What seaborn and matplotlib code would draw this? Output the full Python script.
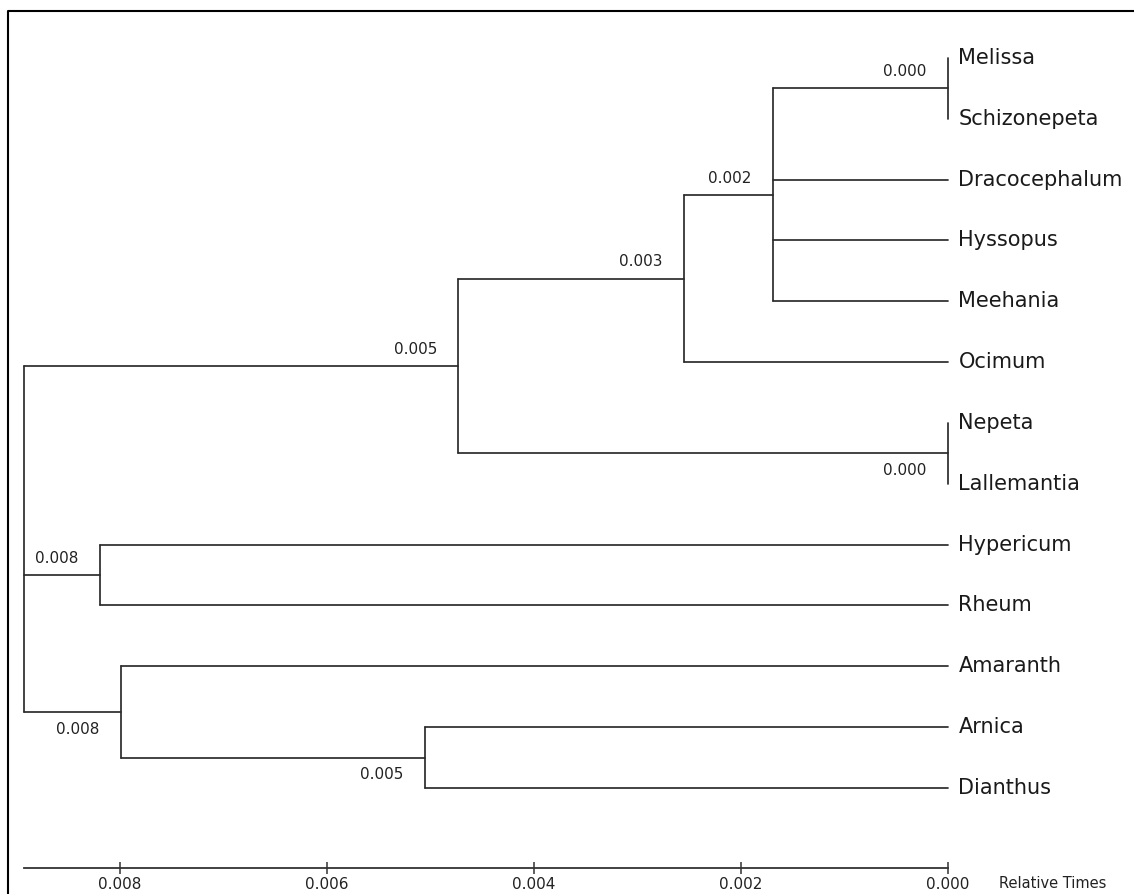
import pandas as pd
import matplotlib.pyplot as plt
import seaborn as sns
from matplotlib.lines import Line2D

# Tree data
leaves = ["Melissa", "Schizonepeta", "Dracocephalum", "Hyssopus", "Meehania",
          "Ocimum", "Nepeta", "Lallemantia", "Hypericum", "Rheum",
          "Amaranth", "Arnica", "Dianthus"]

node_names = ["n1", "n2", "n3", "n4", "n5", "n6", "n7", "n8", "root"]
node_children = [
    ["Melissa", "Schizonepeta"],
    ["n1", "Dracocephalum", "Hyssopus", "Meehania"],
    ["n2", "Ocimum"],
    ["Nepeta", "Lallemantia"],
    ["n3", "n4"],
    ["Hypericum", "Rheum"],
    ["Arnica", "Dianthus"],
    ["Amaranth", "n7"],
    ["n5", "n6", "n8"],
]
node_heights = [0.0, 0.00169, 0.00255, 0.0, 0.00473, 0.00819, 0.00505, 0.00799, 0.00893]
node_labels = ["0.000", "0.002", "0.003", "0.000", "0.005", "0.008", "0.005", "0.008", ""]

tick_values = [0.008, 0.006, 0.004, 0.002, 0.000]
axis_title = "Relative Times"

# which node labels sit under their branch
below = {"n4", "n8", "n7"}

# layout from the tree
height = {name: 0.0 for name in leaves}
ypos = {name: i for i, name in enumerate(leaves)}
for name, kids, h in zip(node_names, node_children, node_heights):
    height[name] = h
    ypos[name] = (ypos[kids[0]] + ypos[kids[-1]]) / 2

rows = []
seg = 0
for name, kids in zip(node_names, node_children):
    h = height[name]
    rows += [(seg, h, ypos[kids[0]]), (seg, h, ypos[kids[-1]])]
    seg += 1
    for k in kids:
        rows += [(seg, h, ypos[k]), (seg, height[k], ypos[k])]
        seg += 1
segs = pd.DataFrame(rows, columns=["seg", "x", "y"])

sns.set_theme(style="white")
plt.rcParams["font.family"] = ["DejaVu Sans"]

fig = plt.figure(figsize=(11.34, 8.94), dpi=100)
ax = fig.add_axes([0, 0, 1, 1])
sns.lineplot(data=segs, x="x", y="y", units="seg", estimator=None, sort=False,
             color="#2b2b2b", linewidth=1.25, legend=False, ax=ax)

root_h = node_heights[node_names.index("root")]
ax.set_xlim(0.009159, -0.001797)
ax.set_ylim(13.743, -0.9535)

for name in leaves:
    ax.annotate(name, xy=(0, ypos[name]), xytext=(7.5, 0), textcoords="offset points",
                ha="left", va="center", fontsize=15, color="#1a1a1a")

for name, lab in zip(node_names, node_labels):
    if not lab:
        continue
    dy = -12.5 if name in below else 12
    ax.annotate(lab, xy=(height[name], ypos[name]), xytext=(-15.5, dy),
                textcoords="offset points", ha="right", va="center",
                fontsize=11, color="#222222")

# time axis
axis_y = 13.316
for s in ["top", "left", "right"]:
    ax.spines[s].set_visible(False)
ax.spines["bottom"].set_position(("data", axis_y))
ax.spines["bottom"].set_bounds(0, root_h)
ax.spines["bottom"].set_color("#333333")
ax.spines["bottom"].set_linewidth(1.3)
ax.set_xticks(tick_values)
ax.set_xticklabels([f"{v:.3f}" for v in tick_values])
ax.tick_params(axis="x", direction="inout", length=9, width=1.1, color="#333333",
               pad=2, labelsize=11, labelcolor="#222222", bottom=True)
ax.set_yticks([])
ax.set_xlabel("")
ax.set_ylabel("")
ax.annotate(axis_title, xy=(0, axis_y), xytext=(37, -11.5), textcoords="offset points",
            ha="left", va="center", fontsize=10.5, color="#222222")

# outer frame
fx, fy = 8 / 1134, 1 - 11 / 894
fig.add_artist(Line2D([fx, fx, 1], [0, fy, fy], transform=fig.transFigure,
                      color="black", linewidth=1.5))

plt.savefig("out.png", dpi=100)
